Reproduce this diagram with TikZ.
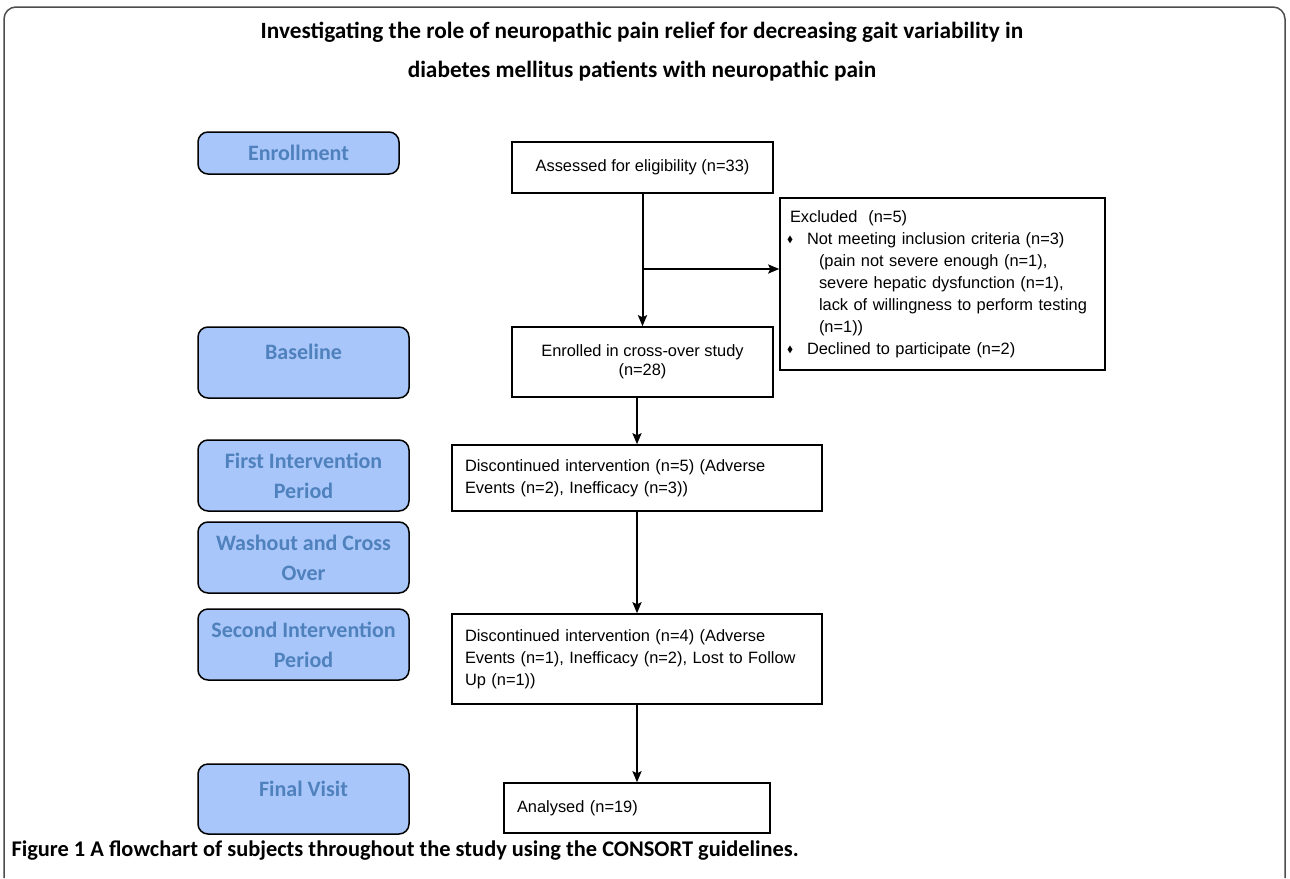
\documentclass[tikz,border=0pt]{standalone}
\usepackage{fontspec}
\usepackage{amssymb}
\setmainfont{Liberation Sans}
\newfontfamily\calibri{Carlito}
\usetikzlibrary{positioning, arrows.meta}
\definecolor{phasefill}{HTML}{A8C6FA}
\definecolor{phasetext}{HTML}{4F81BD}
\definecolor{framegray}{HTML}{4D4D4D}
\newcommand{\exbul}{\raisebox{1.5pt}{\scalebox{0.55}{$\blacklozenge$}}}

\begin{document}
\begin{tikzpicture}[x=1pt, y=-1pt,
  phase/.style={draw, rectangle, rounded corners=10pt, line width=1.5pt, fill=phasefill, text=phasetext, font=\calibri\bfseries\fontsize{22}{30}\selectfont, align=center, minimum width=211pt, minimum height=71pt, inner sep=0pt},
  flowbox/.style={draw, rectangle, line width=1.5pt, font=\fontsize{16.4}{22}\selectfont, inner ysep=0pt},
  flow/.style={->, >={Stealth[length=11pt, width=9pt, inset=2pt]}, line width=2pt}]

\useasboundingbox (0,0) rectangle (1290,878);
\draw[framegray, line width=1.5pt, rounded corners=12pt] (4,878) -- (4,7) -- (1285,7) -- (1285,878);

\node[font=\calibri\bfseries\fontsize{23.3}{39}\selectfont, align=center] (title) at (642,52) {Investigating the role of neuropathic pain relief for decreasing gait variability in\\diabetes mellitus patients with neuropathic pain};

% study phases
\node[phase, minimum width=201pt, minimum height=42pt] (enrolph) at (298.5,153) {Enrollment};
\node[phase] (baseph) at (303.5,362.5) {Baseline\\[-9pt]\mbox{}};
\node[phase] (firstph) at (303.5,475.5) {First Intervention\\Period};
\node[phase] (washph) at (303.5,557.5) {Washout and Cross\\Over};
\node[phase] (secondph) at (303.5,644.5) {Second Intervention\\Period};
\node[phase, minimum height=70pt] (finalph) at (303.5,799) {Final Visit\\[-9pt]\mbox{}};

% subjects
\node[flowbox, minimum width=261pt, minimum height=51pt] (assess) at (642.5,167.5) {Assessed for eligibility (n=33)};
\node[flowbox, minimum width=261pt, minimum height=70pt, align=center, font=\fontsize{16.4}{19}\selectfont] (enrol) at (642.5,362) {Enrolled in cross-over study\\(n=28)};
\node[flowbox, text width=311pt, inner xsep=7pt, minimum height=172pt, align=left] (excl) at (942.5,284) {\hspace*{3pt}Excluded\ \ (n=5)\\
\makebox[20pt][l]{\exbul}Not meeting inclusion criteria (n=3)\\
\hspace*{32pt}(pain not severe enough (n=1),\\
\hspace*{32pt}severe hepatic dysfunction (n=1),\\
\hspace*{32pt}lack of willingness to perform testing\\
\hspace*{32pt}(n=1))\\
\makebox[20pt][l]{\exbul}Declined to participate (n=2)};
\node[flowbox, text width=344pt, inner xsep=13pt, minimum height=66pt, align=left] (first) at (637,478) {Discontinued intervention (n=5) (Adverse\\Events (n=2), Inefficacy (n=3))};
\node[flowbox, text width=344pt, inner xsep=13pt, minimum height=90pt, align=left] (second) at (637,659) {Discontinued intervention (n=4) (Adverse\\Events (n=1), Inefficacy (n=2), Lost to Follow\\Up (n=1))};
\node[flowbox, text width=240pt, inner xsep=13pt, minimum height=50pt, align=left] (analysed) at (637,808) {Analysed (n=19)};

\coordinate (split) at (642.5,269);

\draw[flow] (assess) -- (enrol);
\draw[flow] (split) -- (split -| excl.west);
\draw[flow] (first.north |- enrol.south) -- (first.north);
\draw[flow] (first) -- (second);
\draw[flow] (second) -- (analysed);

\node[font=\calibri\bfseries\fontsize{22.4}{26}\selectfont, anchor=west] (caption) at (8,851) {Figure 1 A flowchart of subjects throughout the study using the CONSORT guidelines.};

\end{tikzpicture}
\end{document}
